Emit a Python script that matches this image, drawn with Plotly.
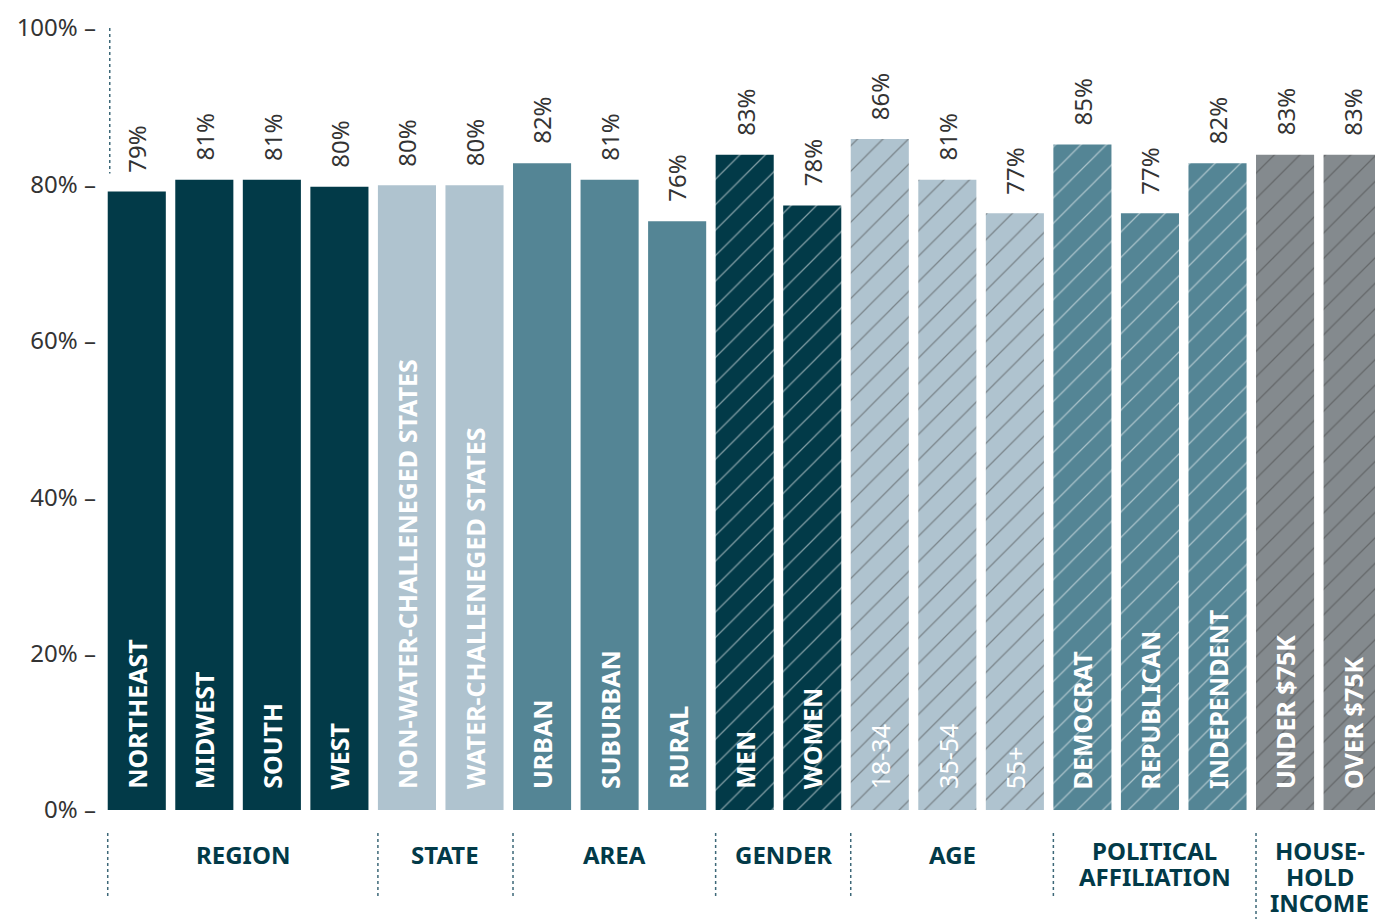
import plotly.graph_objects as go

categories = ["NORTHEAST", "MIDWEST", "SOUTH", "WEST",
              "NON-WATER-CHALLENEGED STATES", "WATER-CHALLENEGED STATES",
              "URBAN", "SUBURBAN", "RURAL",
              "MEN", "WOMEN",
              "18-34", "35-54", "55+",
              "DEMOCRAT", "REPUBLICAN", "INDEPENDENT",
              "UNDER $75K", "OVER $75K"]
values = [79.1, 80.6, 80.6, 79.7, 79.9, 79.9, 82.7, 80.6, 75.3, 83.8, 77.3,
          85.8, 80.6, 76.3, 85.1, 76.3, 82.7, 83.8, 83.8]
value_labels = ["79%", "81%", "81%", "80%", "80%", "80%", "82%", "81%", "76%",
                "83%", "78%", "86%", "81%", "77%", "85%", "77%", "82%", "83%", "83%"]
groups = [("REGION", 0, 4), ("STATE", 4, 6), ("AREA", 6, 9), ("GENDER", 9, 11),
          ("AGE", 11, 14), ("POLITICAL<br>AFFILIATION", 14, 17),
          ("HOUSE-<br>HOLD<br>INCOME", 17, 19)]
tick_vals = [0, 20, 40, 60, 80, 100]
tick_text = ["0% –", "20% –", "40% –", "60% –", "80% –", "100% –"]

DARK = "#023a48"
LIGHT = "#afc3cf"
MID = "#548595"
GRAY = "#848a8e"
HATCH = "#4d7886"
group_colors = [DARK, LIGHT, MID, DARK, LIGHT, MID, GRAY]
group_hatch = ["", "", "", "/", "/", "/", "/"]

colors, shapes_pat = [], []
for gi, (name, a, b) in enumerate(groups):
    for i in range(a, b):
        colors.append(group_colors[gi])
        shapes_pat.append(group_hatch[gi])

x = list(range(len(categories)))
fig = go.Figure(go.Bar(
    x=x, y=values,
    marker=dict(color=colors, line=dict(width=0),
                pattern=dict(shape=shapes_pat, fgcolor=HATCH, size=18,
                             solidity=0.07, fillmode="overlay")),
    hoverinfo="skip"))

FONT = "Noto Sans"
annotations = []
for i, (c, v, lab) in enumerate(zip(categories, values, value_labels)):
    annotations.append(dict(x=i, y=v, xref="x", yref="y", text=lab, showarrow=False,
                            textangle=-90, xanchor="center", yanchor="bottom", yshift=17,
                            font=dict(family=FONT, size=24, color="#333333")))
    bold = not c[0].isdigit()
    annotations.append(dict(x=i, y=0, xref="x", yref="y", text=c, showarrow=False,
                            textangle=-90, xanchor="center", yanchor="bottom", yshift=19,
                            font=dict(family=FONT, size=25, color="white",
                                      weight="bold" if bold else "normal")))

# page body has an 8px margin; layout is shifted so the picture lands where the reference is
OFF = 8
plot_h = 782.5
ZERO_PIX = 810
def py(pix):
    return -(pix - ZERO_PIX) / plot_h

shapes = []
XMAX = 18.45
for gi, (name, a, b) in enumerate(groups):
    sx = a - 0.43
    ex = groups[gi + 1][1] - 0.43 if gi + 1 < len(groups) else XMAX
    mid = (sx + ex) / 2
    lines = name.split("<br>")
    ys = [855] if len(lines) == 1 else [851 + 26 * k for k in range(len(lines))]
    for ln, yy in zip(lines, ys):
        annotations.append(dict(x=mid, y=py(yy), xref="x", yref="paper", text=ln,
                                showarrow=False, xanchor="center", yanchor="middle",
                                font=dict(family=FONT, size=24, color="#023a48",
                                          weight="bold")))
    y1 = 919 if gi == len(groups) - 1 else 897
    shapes.append(dict(type="line", xref="x", yref="paper", x0=sx, x1=sx,
                       y0=py(833), y1=py(y1),
                       line=dict(color="#3d6878", width=1.5, dash="dot")))

shapes.append(dict(type="line", xref="x", yref="y", x0=-0.4, x1=-0.4, y0=100, y1=81.4,
                   line=dict(color="#3d6878", width=1.5, dash="dot")))

fig.update_layout(
    width=1383 - OFF, height=919 - OFF,
    margin=dict(l=103 - OFF, r=0, t=27.5 - OFF, b=109, pad=0),
    paper_bgcolor="white", plot_bgcolor="white",
    bargap=0.14, showlegend=False,
    xaxis=dict(range=[-0.5, XMAX], showticklabels=False, showgrid=False,
               zeroline=False, showline=False),
    yaxis=dict(range=[0, 100], tickvals=tick_vals, ticktext=tick_text,
               showgrid=False, zeroline=False, showline=False, ticks="",
               ticklabelstandoff=6,
               tickfont=dict(family=FONT, size=24, color="#333333")),
    annotations=annotations, shapes=shapes,
)
fig.write_html("out.html")
